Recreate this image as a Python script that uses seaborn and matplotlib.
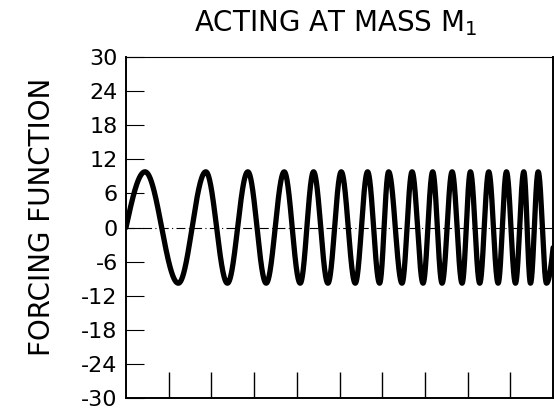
import numpy as np
import pandas as pd
import matplotlib
matplotlib.use("Agg")
import matplotlib.pyplot as plt
import seaborn as sns

# ---- data ----
title = r"ACTING AT MASS M$_\mathregular{1}$"
ylabel = "FORCING FUNCTION"
ytick_values = [-30, -24, -18, -12, -6, 0, 6, 12, 18, 24, 30]
ytick_labels = ["-30", "-24", "-18", "-12", "-6", "0", "6", "12", "18", "24", "30"]
xtick_values = [1, 2, 3, 4, 5, 6, 7, 8, 9]
amplitude = 9.8
# x positions of successive peaks / troughs of the swept sine (first is a peak)
extrema_x = [0.445, 1.226, 1.869, 2.375, 2.853, 3.283, 3.705, 4.080, 4.392,
             4.729, 5.041, 5.369, 5.658, 5.939, 6.150, 6.464, 6.699, 6.957,
             7.182, 7.402, 7.637, 7.871, 8.066, 8.284, 8.495, 8.715, 8.910,
             9.121, 9.316, 9.473, 9.653, 9.848]
start_x = 0.0      # curve starts at a zero crossing going up
end_zero_x = 10.05  # next zero crossing after the last trough (just off the plot)

# ---- build curve: phase known at each crossing/extremum ----
knots_x = [start_x] + extrema_x + [end_zero_x]
knots_phase = [0.0] + [np.pi / 2 + k * np.pi for k in range(len(extrema_x))]
knots_phase.append(knots_phase[-1] + np.pi / 2)
xs = np.linspace(start_x, end_zero_x, 4000)
phase = np.interp(xs, knots_x, knots_phase)
df = pd.DataFrame({"x": xs, "y": amplitude * np.sin(phase)})

# ---- style ----
sns.set_style("white")
plt.rcParams["font.family"] = ["DejaVu Sans"]
plt.rcParams["mathtext.fontset"] = "custom"
plt.rcParams["mathtext.rm"] = "DejaVu Sans"
for key in ["text.color", "axes.labelcolor", "xtick.color", "ytick.color",
            "axes.edgecolor"]:
    plt.rcParams[key] = "black"

fig = plt.figure(figsize=(5.54, 4.12), dpi=100)
ax = fig.add_axes([126 / 554, 14 / 412, 427 / 554, 341 / 412])

ax.axhline(0, color="black", lw=0.8, ls=(0, (8, 3, 1, 3)), zorder=1)
sns.lineplot(data=df, x="x", y="y", ax=ax, color="black", lw=3.8, zorder=3)

ax.set_xlim(0, 10)
ax.set_ylim(-30, 30)
ax.set_yticks(ytick_values)
ax.set_yticklabels(ytick_labels, fontsize=16, color="black")
ax.set_xticks(xtick_values)
ax.set_xticklabels([])
ax.tick_params(axis="y", direction="in", length=13, width=0.8, pad=6, left=True)
ax.tick_params(axis="x", direction="in", length=19, width=1.0, bottom=True)
ax.set_xlabel("")
ax.set_ylabel(ylabel, fontsize=20, color="black")
ax.yaxis.set_label_coords(-0.165, 0.53)
for s in ax.spines.values():
    s.set_visible(True)
    s.set_color("black")
    s.set_linewidth(1.4)
ax.spines["top"].set_linewidth(0.8)

fig.text(0.605, 1 - 31 / 412, title, fontsize=20, ha="center", va="baseline",
         color="black")

fig.savefig("out.png", dpi=100)
